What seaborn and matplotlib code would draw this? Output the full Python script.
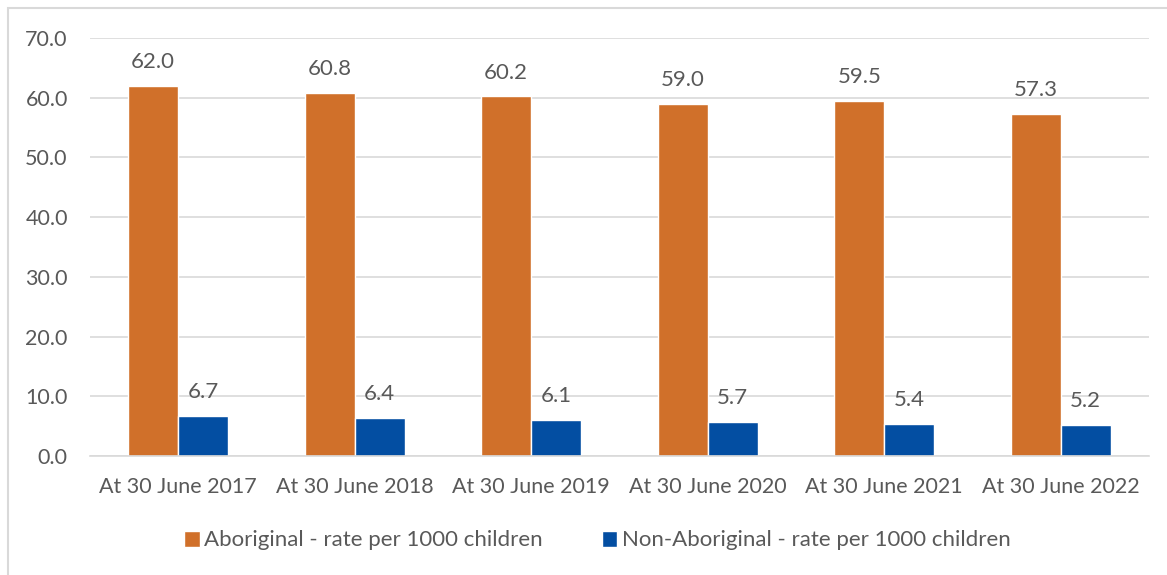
import pandas as pd
import matplotlib.pyplot as plt
import seaborn as sns
from matplotlib.patches import Rectangle, Patch

# Data
years = ['At 30 June 2017', 'At 30 June 2018', 'At 30 June 2019',
         'At 30 June 2020', 'At 30 June 2021', 'At 30 June 2022']
aboriginal = [62.0, 60.8, 60.2, 59.0, 59.5, 57.3]
non_aboriginal = [6.7, 6.4, 6.1, 5.7, 5.4, 5.2]
series_names = ['Aboriginal - rate per 1000 children',
                'Non-Aboriginal - rate per 1000 children']

colors = ['#D0702A', '#034EA2']
text_color = '#595959'

df = pd.DataFrame({
    'Year': years * 2,
    'Rate': aboriginal + non_aboriginal,
    'Group': [series_names[0]] * len(years) + [series_names[1]] * len(years),
})

sns.set_theme(style='white')
plt.rcParams['font.family'] = ['Lato', 'DejaVu Sans']

fig = plt.figure(figsize=(11.67, 5.75), dpi=100)
ax = fig.add_axes([0.0771, 0.207, 0.9075, 0.727])

sns.barplot(data=df, x='Year', y='Rate', hue='Group', palette=colors,
            width=0.567, gap=0, ax=ax, legend=False, saturation=1)

for c in ax.containers:
    ax.bar_label(c, fmt='%.1f', padding=10, fontsize=16, color=text_color)

ax.set_ylim(0, 70)
ax.set_yticks(range(0, 71, 10))
ax.set_yticklabels([f'{v:.1f}' for v in range(0, 71, 10)])
ax.set_xlim(-0.5, len(years) - 0.5)
ax.yaxis.grid(True, color='#D9D9D9', linewidth=1.2)
ax.set_axisbelow(True)
ax.set_xlabel('')
ax.set_ylabel('')
for side in ['top', 'right', 'left']:
    ax.spines[side].set_visible(False)
ax.spines['bottom'].set_color('#D9D9D9')
ax.spines['bottom'].set_linewidth(1.2)
ax.tick_params(axis='both', length=0, labelsize=15.5, colors=text_color)
ax.tick_params(axis='x', pad=15)
ax.tick_params(axis='y', pad=16)

handles = [Patch(facecolor=colors[0]), Patch(facecolor=colors[1])]
fig.legend(handles, series_names, loc='center', bbox_to_anchor=(0.512, 0.06),
           ncol=2, frameon=False, fontsize=16, labelcolor=text_color,
           handlelength=0.7, handleheight=0.7, handletextpad=0.2, columnspacing=2.65)

# light outer border of the chart area
fig.patches.append(Rectangle((8 / 1167, -0.01), 1.02, 0.996, transform=fig.transFigure,
                             fill=False, edgecolor='#D9D9D9', linewidth=1.5))

fig.savefig('out.png', dpi=100)
